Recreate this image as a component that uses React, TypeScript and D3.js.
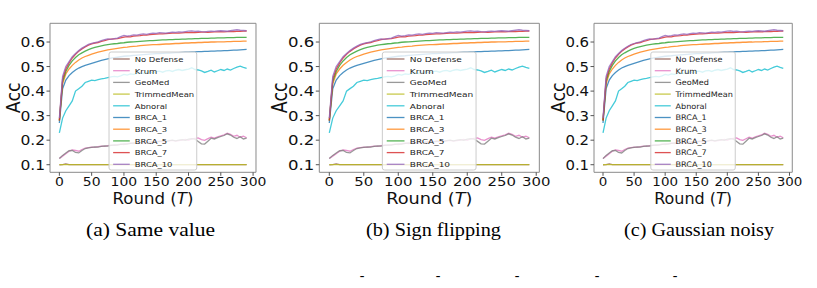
import React from "react";
import * as d3 from "d3";

// rounds shared by every series
const rounds = [
  0, 5, 10, 15, 20, 25, 30, 35, 40, 45, 50, 55, 60, 65, 70, 75, 80, 85, 90, 95,
  100, 105, 110, 115, 120, 125, 130, 135, 140, 145, 150, 155, 160, 165, 170, 175, 180, 185, 190, 195,
  200, 205, 210, 215, 220, 225, 230, 235, 240, 245, 250, 255, 260, 265, 270, 275, 280, 285, 290,
];

const brca1 = [
  0.27, 0.41, 0.445, 0.463, 0.476, 0.486, 0.494, 0.5, 0.505, 0.509,
  0.513, 0.517, 0.521, 0.525, 0.528, 0.531, 0.534, 0.536, 0.538, 0.54,
  0.542, 0.543, 0.544, 0.546, 0.547, 0.548, 0.549, 0.55, 0.551, 0.552,
  0.553, 0.553, 0.554, 0.555, 0.555, 0.556, 0.557, 0.557, 0.558, 0.559,
  0.559, 0.56, 0.56, 0.561, 0.561, 0.562, 0.562, 0.563, 0.563, 0.564,
  0.564, 0.565, 0.565, 0.566, 0.567, 0.567, 0.568, 0.569, 0.57,
];
const brca3 = [
  0.28, 0.43, 0.47, 0.49, 0.505, 0.517, 0.527, 0.535, 0.541, 0.546,
  0.551, 0.555, 0.559, 0.562, 0.565, 0.568, 0.57, 0.572, 0.574, 0.576,
  0.578, 0.579, 0.581, 0.582, 0.583, 0.585, 0.586, 0.587, 0.588, 0.589,
  0.589, 0.59, 0.591, 0.592, 0.592, 0.593, 0.594, 0.594, 0.595, 0.596,
  0.596, 0.597, 0.597, 0.598, 0.598, 0.599, 0.599, 0.6, 0.6, 0.601,
  0.601, 0.601, 0.602, 0.602, 0.603, 0.603, 0.603, 0.604, 0.604,
];
const brca5 = [
  0.28, 0.44, 0.48, 0.505, 0.523, 0.537, 0.548, 0.556, 0.563, 0.569,
  0.574, 0.578, 0.581, 0.584, 0.587, 0.589, 0.591, 0.593, 0.594, 0.596,
  0.597, 0.599, 0.6, 0.601, 0.602, 0.603, 0.604, 0.605, 0.606, 0.606,
  0.607, 0.608, 0.609, 0.609, 0.61, 0.61, 0.611, 0.611, 0.612, 0.612,
  0.613, 0.613, 0.614, 0.614, 0.615, 0.615, 0.615, 0.616, 0.616, 0.617,
  0.617, 0.617, 0.618, 0.618, 0.618, 0.619, 0.619, 0.619, 0.619,
];
const brca7 = [
  0.28, 0.45, 0.49, 0.515, 0.535, 0.55, 0.562, 0.572, 0.58, 0.587,
  0.592, 0.596, 0.598, 0.603, 0.606, 0.61, 0.612, 0.613, 0.614, 0.617,
  0.62, 0.622, 0.621, 0.624, 0.625, 0.626, 0.628, 0.628, 0.63, 0.631,
  0.632, 0.633, 0.633, 0.634, 0.635, 0.636, 0.636, 0.636, 0.637, 0.638,
  0.638, 0.639, 0.638, 0.639, 0.64, 0.64, 0.639, 0.64, 0.641, 0.641,
  0.642, 0.641, 0.642, 0.643, 0.642, 0.643, 0.643, 0.644, 0.645,
];
const brca10 = [
  0.29, 0.46, 0.5, 0.52, 0.54, 0.553, 0.565, 0.575, 0.583, 0.59,
  0.594, 0.598, 0.601, 0.606, 0.61, 0.613, 0.611, 0.614, 0.616, 0.622,
  0.627, 0.624, 0.626, 0.629, 0.628, 0.631, 0.633, 0.631, 0.634, 0.636,
  0.635, 0.638, 0.637, 0.636, 0.638, 0.64, 0.639, 0.641, 0.64, 0.642,
  0.644, 0.645, 0.643, 0.644, 0.642, 0.641, 0.643, 0.644, 0.643, 0.645,
  0.646, 0.645, 0.644, 0.646, 0.648, 0.65, 0.648, 0.647, 0.646,
];
const noDefense = [
  0.099, 0.1, 0.103, 0.1, 0.1, 0.1, 0.1, 0.1, 0.1, 0.1,
  0.1, 0.1, 0.1, 0.1, 0.1, 0.1, 0.1, 0.1, 0.1, 0.1,
  0.1, 0.1, 0.1, 0.1, 0.1, 0.1, 0.1, 0.1, 0.1, 0.1,
  0.1, 0.1, 0.1, 0.1, 0.1, 0.1, 0.1, 0.1, 0.1, 0.1,
  0.1, 0.1, 0.1, 0.1, 0.1, 0.1, 0.1, 0.1, 0.1, 0.1,
  0.1, 0.1, 0.1, 0.1, 0.1, 0.1, 0.1, 0.1, 0.1,
];
const krum = [
  0.125, 0.135, 0.145, 0.155, 0.16, 0.158, 0.155, 0.162, 0.168, 0.17,
  0.172, 0.171, 0.174, 0.176, 0.175, 0.178, 0.18, 0.179, 0.182, 0.184,
  0.182, 0.186, 0.188, 0.186, 0.189, 0.19, 0.188, 0.191, 0.193, 0.19,
  0.194, 0.196, 0.193, 0.195, 0.197, 0.199, 0.196, 0.198, 0.2, 0.203,
  0.199, 0.205, 0.207, 0.209, 0.202, 0.199, 0.206, 0.212, 0.208, 0.214,
  0.218, 0.222, 0.228, 0.224, 0.216, 0.22, 0.212, 0.216, 0.21,
];
const geoMed = [
  0.125, 0.138, 0.148, 0.157, 0.158, 0.15, 0.148, 0.158, 0.166, 0.169,
  0.171, 0.173, 0.172, 0.175, 0.177, 0.176, 0.179, 0.181, 0.18, 0.183,
  0.185, 0.184, 0.187, 0.189, 0.187, 0.19, 0.192, 0.189, 0.192, 0.194,
  0.192, 0.195, 0.197, 0.194, 0.198, 0.2, 0.197, 0.2, 0.202, 0.199,
  0.204, 0.206, 0.204, 0.195, 0.185, 0.184, 0.196, 0.208, 0.205, 0.21,
  0.215, 0.219, 0.226, 0.221, 0.212, 0.207, 0.214, 0.205, 0.208,
];
const trimmedMean = [
  0.1, 0.1, 0.1, 0.1, 0.1, 0.1, 0.1, 0.1, 0.1, 0.1,
  0.1, 0.1, 0.1, 0.1, 0.1, 0.1, 0.1, 0.1, 0.1, 0.1,
  0.1, 0.1, 0.1, 0.1, 0.1, 0.1, 0.1, 0.1, 0.1, 0.1,
  0.1, 0.1, 0.1, 0.1, 0.1, 0.1, 0.1, 0.1, 0.1, 0.1,
  0.1, 0.1, 0.1, 0.1, 0.1, 0.1, 0.1, 0.1, 0.1, 0.1,
  0.1, 0.1, 0.1, 0.1, 0.1, 0.1, 0.1, 0.1, 0.1,
];
const abnoral = [
  0.23, 0.29, 0.32, 0.34, 0.36, 0.4, 0.41, 0.42, 0.435, 0.44,
  0.445, 0.443, 0.447, 0.45, 0.452, 0.455, 0.458, 0.46, 0.458, 0.462,
  0.468, 0.465, 0.47, 0.468, 0.472, 0.475, 0.471, 0.476, 0.478, 0.474,
  0.479, 0.481, 0.477, 0.482, 0.484, 0.48, 0.485, 0.488, 0.484, 0.487,
  0.49, 0.495, 0.488, 0.486, 0.482, 0.476, 0.48, 0.485, 0.478, 0.483,
  0.488, 0.484, 0.49, 0.486, 0.492, 0.498, 0.502, 0.497, 0.493,
];

const xTicks = [0, 50, 100, 150, 200, 250, 300];
const yTicks = [0.1, 0.2, 0.3, 0.4, 0.5, 0.6];
const captions = ["(a) Same value", "(b) Sign flipping", "(c) Gaussian noisy"];

// draw order (matplotlib colour cycle order)
const series = [
  { name: "BRCA_1", color: "#1f77b4", values: brca1 },
  { name: "BRCA_3", color: "#ff7f0e", values: brca3 },
  { name: "BRCA_5", color: "#2ca02c", values: brca5 },
  { name: "BRCA_7", color: "#d62728", values: brca7 },
  { name: "BRCA_10", color: "#9467bd", values: brca10 },
  { name: "No Defense", color: "#8c564b", values: noDefense },
  { name: "Krum", color: "#e377c2", values: krum },
  { name: "GeoMed", color: "#7f7f7f", values: geoMed },
  { name: "TrimmedMean", color: "#bcbd22", values: trimmedMean },
  { name: "Abnoral", color: "#17becf", values: abnoral },
];
const legendOrder = [
  "No Defense", "Krum", "GeoMed", "TrimmedMean", "Abnoral",
  "BRCA_1", "BRCA_3", "BRCA_5", "BRCA_7", "BRCA_10",
];

const BOX_W = 186;
const BOX_TOP = 23.3;
const BOX_BOTTOM = 172.3;
const FONT = "DejaVu Sans, sans-serif";

const panels = [
  { left: 50, sx: 1.1075, capX: 86, capW: 129 },
  { left: 319.3, sx: 1.183, capX: 366, capW: 135 },
  { left: 594, sx: 1.066, capX: 624, capW: 150 },
];

const x = d3.scaleLinear().domain([-14.5, 304.5]).range([0, BOX_W]);
const y = d3.scaleLinear().domain([0.0691, 0.6763]).range([BOX_BOTTOM, BOX_TOP]);
const line = d3
  .line<[number, number]>()
  .x((d) => x(d[0]))
  .y((d) => y(d[1]));

const Panel = ({ left, sx }: { left: number; sx: number }) => {
  const tickLen = 3.5 / sx;
  return (
    <g transform={`translate(${left},0) scale(${sx},1)`}>
      {series.map((s) => (
        <path
          key={s.name}
          d={line(rounds.map((r, i) => [r, s.values[i]])) || ""}
          fill="none"
          stroke={s.color}
          strokeOpacity={0.8}
          strokeWidth={1.3}
          vectorEffect="non-scaling-stroke"
        />
      ))}
      <rect
        x={0}
        y={BOX_TOP}
        width={BOX_W}
        height={BOX_BOTTOM - BOX_TOP}
        fill="none"
        stroke="#8a8a8a"
        strokeWidth={1}
        vectorEffect="non-scaling-stroke"
      />
      {xTicks.map((t) => (
        <g key={t}>
          <line x1={x(t)} x2={x(t)} y1={BOX_BOTTOM} y2={BOX_BOTTOM + 3.5} stroke="#555" vectorEffect="non-scaling-stroke" />
          <text x={x(t)} y={186.3} textAnchor="middle" fontFamily={FONT} fontSize={12.6} fill="#111">
            {t}
          </text>
        </g>
      ))}
      {yTicks.map((t) => (
        <g key={t}>
          <line x1={-tickLen} x2={0} y1={y(t)} y2={y(t)} stroke="#555" vectorEffect="non-scaling-stroke" />
          <text x={-tickLen - 1.3} y={y(t) + 5} textAnchor="end" fontFamily={FONT} fontSize={14} fill="#111">
            {t.toFixed(1)}
          </text>
        </g>
      ))}
      <text x={BOX_W / 2} y={204} textAnchor="middle" fontFamily={FONT} fontSize={15} fill="#111">
        Round (<tspan fontStyle="italic">T</tspan>)
      </text>
      <text
        transform={`translate(-33.5,97.8) rotate(-90)`}
        textAnchor="middle"
        dominantBaseline="central"
        fontFamily={FONT}
        fontSize={17.5}
        fill="#111"
      >
        Acc
      </text>
      <rect x={53.3} y={52} width={79.2} height={118} rx={2} fill="#fff" fillOpacity={0.8} stroke="#cccccc" vectorEffect="non-scaling-stroke" />
      {legendOrder.map((name, i) => {
        const s = series.find((d) => d.name === name)!;
        const ly = 59 + 11.7 * i;
        return (
          <g key={name}>
            <line x1={57} x2={72} y1={ly} y2={ly} stroke={s.color} strokeOpacity={0.8} strokeWidth={1.3} vectorEffect="non-scaling-stroke" />
            <text x={76.5} y={ly + 2.9} fontFamily={FONT} fontSize={7.6} fill="#222">
              {name}
            </text>
          </g>
        );
      })}
    </g>
  );
};

const dashX = [362, 438, 517, 597, 675];

export default function App() {
  return (
    <svg
      width={817}
      height={288}
      style={{ position: "absolute", left: 0, top: 0, background: "#fff" }}
    >
      <rect width={817} height={288} fill="#fff" />
      {panels.map((p, i) => (
        <g key={i}>
          <Panel left={p.left} sx={p.sx} />
          <text
            x={p.capX}
            y={236}
            textLength={p.capW}
            lengthAdjust="spacingAndGlyphs"
            fontFamily="Liberation Serif, Times New Roman, serif"
            fontSize={18.5}
            fill="#000"
          >
            {captions[i]}
          </text>
        </g>
      ))}
      {dashX.map((dx) => (
        <text key={dx} x={dx} y={280} textAnchor="middle" fontFamily="Liberation Serif, serif" fontSize={14} fill="#000">
          -
        </text>
      ))}
    </svg>
  );
}
